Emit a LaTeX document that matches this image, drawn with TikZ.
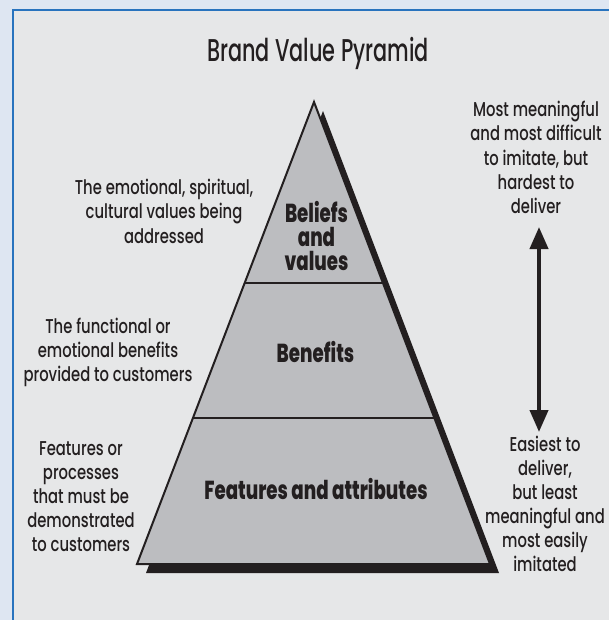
\documentclass[tikz,border=0pt]{standalone}
\usepackage{fontspec}
\setmainfont{Poppins}[FakeStretch=0.74,UprightFont=* Medium]
\newfontfamily\titlefont{Poppins}[FakeStretch=0.66,UprightFont=* Medium]
\newfontfamily\labelfont{Poppins}[FakeStretch=0.70,UprightFont=* ExtraBold]
\usetikzlibrary{arrows.meta,calc}
\definecolor{outerbg}{RGB}{222,230,242}
\definecolor{panel}{RGB}{230,231,232}
\definecolor{frameblue}{RGB}{40,115,190}
\definecolor{tier}{RGB}{188,189,192}
\definecolor{ink}{RGB}{35,31,32}
\begin{document}
\begin{tikzpicture}[x=1pt,y=-1pt,
  % multi-line nodes are placed by the baseline of their last line
  note/.style={align=center,anchor=base,text=ink,inner sep=0pt,
    font=\fontsize{20}{24}\selectfont},
  tierlabel/.style={align=center,anchor=base,text=ink,inner sep=0pt,
    font=\labelfont\fontsize{26}{24}\selectfont},
  outline/.style={draw=ink,line width=2pt,line join=miter}]
\useasboundingbox (0,0) rectangle (609,620);
\fill[outerbg] (0,0) rectangle (609,620);
\begin{scope}
\clip (0,0) rectangle (609,620);
\draw[fill=panel,draw=frameblue,line width=2pt] (12.5,10.5) rectangle (620,640);
\end{scope}

% title
\node[anchor=base,text=ink,inner sep=0pt,font=\titlefont\fontsize{31.5}{31.5}\selectfont]
  (title) at (318,62) {Brand Value Pyramid};

% pyramid corners
\coordinate (apex) at (314,102);
\coordinate (bl) at (137,564);
\coordinate (br) at (490,564);
% drop shadow
\fill[ink] ($(apex)+(9,9)$) -- ($(br)+(9,9)$) -- ($(bl)+(9,9)$) -- cycle;
% body
\filldraw[fill=tier,outline] (apex) -- (br) -- (bl) -- cycle;
% tier dividers
\coordinate (d1l) at ($(apex)!0.3918!(bl)$);
\coordinate (d1r) at ($(apex)!0.3918!(br)$);
\coordinate (d2l) at ($(apex)!0.6840!(bl)$);
\coordinate (d2r) at ($(apex)!0.6840!(br)$);
\draw[outline] (d1l) -- (d1r);
\draw[outline] (d2l) -- (d2r);

% tier labels
\node[tierlabel] (beliefs) at (316.5,270) {Beliefs\\and\\values};
\node[tierlabel] (benefits) at (315.5,362.7) {Benefits};
\node[tierlabel] (features) at (316,499) {Features and attributes};

% descriptions on the left
\node[note] (descTop) at (164,243)
  {The emotional, spiritual,\\cultural values being\\addressed};
\node[note] (descMid) at (108,381.5)
  {The functional or\\emotional benefits\\provided to customers};
\node[note] (descLow) at (81,551.5)
  {Features or\\processes\\that must be\\demonstrated\\to customers};

% scale on the right
\node[note] (hard) at (536,213)
  {Most meaningful\\and most difficult\\to imitate, but\\hardest to\\deliver};
\node[note] (easy) at (545,571)
  {Easiest to\\deliver,\\but least\\meaningful and\\most easily\\imitated};
\coordinate (upTip) at (539,227);
\coordinate (downTip) at (539,432);
\draw[ink,line width=4pt,{Triangle[width=18pt,length=22pt]}-{Triangle[width=18pt,length=22pt]}]
  (upTip) -- (downTip);
\end{tikzpicture}
\end{document}
